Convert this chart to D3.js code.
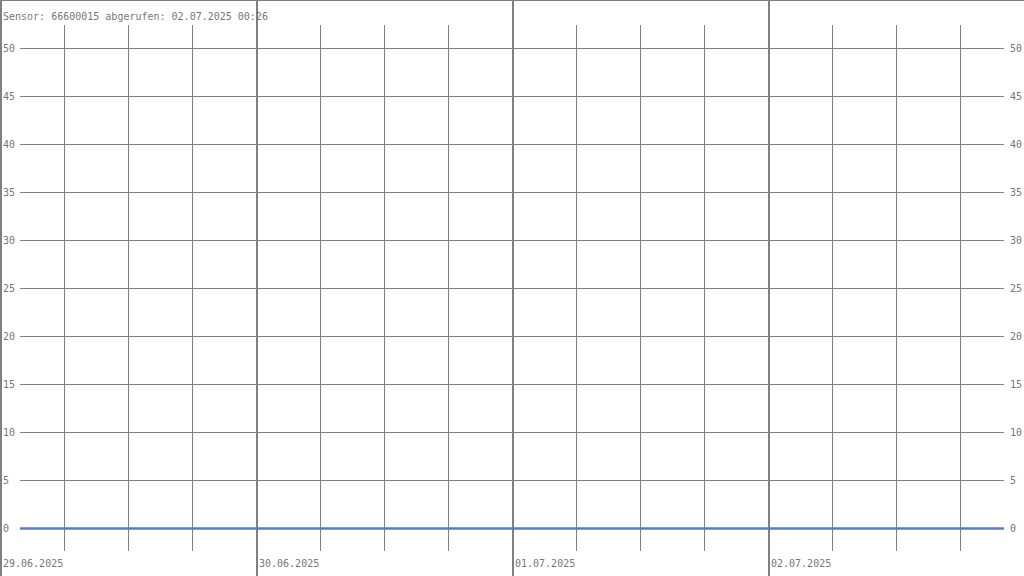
<!DOCTYPE html>
<html>
<head>
<meta charset="utf-8">
<script src="https://cdn.jsdelivr.net/npm/d3@7"></script>
<style>
  body { margin: 0; background: #fff; }
  svg { display: block; }
  text { font-family: "DejaVu Sans Mono", monospace; font-size: 10px; fill: #777; }
</style>
</head>
<body>
<div id="chart"></div>
<script>
// sensor info
var sensorId = "66600015";
var fetchedAt = "02.07.2025 00:26";

// day labels (start of each day)
var days = ["2025-06-29", "2025-06-30", "2025-07-01", "2025-07-02"];

// y ticks
var yTicks = [0, 5, 10, 15, 20, 25, 30, 35, 40, 45, 50];

// readings (all zero)
var readTimes = ["2025-06-29T01:53", "2025-06-29T12:00", "2025-06-30T00:00", "2025-06-30T12:00",
                 "2025-07-01T00:00", "2025-07-01T12:00", "2025-07-02T00:00", "2025-07-02T12:00",
                 "2025-07-02T22:07"];
var readValues = [0, 0, 0, 0, 0, 0, 0, 0, 0];

var width = 1024, height = 576;
var parseDay = d3.timeParse("%Y-%m-%d");
var parseTime = d3.timeParse("%Y-%m-%dT%H:%M");
var fmtDay = d3.timeFormat("%d.%m.%Y");

var data = readTimes.map(function (t, i) { return { date: parseTime(t), value: readValues[i] }; });
var dayDates = days.map(parseDay);

// set the ranges
var x = d3.scaleTime()
    .domain([dayDates[0], d3.timeDay.offset(dayDates[3], 1)])
    .range([0, width]);
var y = d3.scaleLinear().domain([0, 50]).range([528.5, 48.5]);

var gridLeft = 20, gridRight = 1004;

var svg = d3.select("#chart").append("svg")
    .attr("width", width)
    .attr("height", height);

// top border
svg.append("line")
    .attr("x1", 0).attr("x2", width).attr("y1", 0.5).attr("y2", 0.5)
    .attr("stroke", "#808080").attr("stroke-width", 1);

// horizontal grid + labels on both sides
var yg = svg.append("g");
yg.selectAll("line").data(yTicks).enter().append("line")
    .attr("x1", gridLeft).attr("x2", gridRight)
    .attr("y1", function (d) { return y(d); })
    .attr("y2", function (d) { return y(d); })
    .attr("stroke", "#808080").attr("stroke-width", 1);
yg.selectAll("text.l").data(yTicks).enter().append("text")
    .attr("class", "l")
    .attr("x", 3)
    .attr("y", function (d) { return y(d) + 3.5; })
    .text(function (d) { return d; });
yg.selectAll("text.r").data(yTicks).enter().append("text")
    .attr("class", "r")
    .attr("x", 1010)
    .attr("y", function (d) { return y(d) + 3.5; })
    .text(function (d) { return d; });

// 6-hour lines
var hours = d3.timeHour.every(6).range(dayDates[0], d3.timeDay.offset(dayDates[3], 1))
    .filter(function (d) { return d.getHours() !== 0; });
svg.append("g").selectAll("line").data(hours).enter().append("line")
    .attr("x1", function (d) { return Math.round(x(d)) + 0.5; })
    .attr("x2", function (d) { return Math.round(x(d)) + 0.5; })
    .attr("y1", 25).attr("y2", 551)
    .attr("stroke", "#808080").attr("stroke-width", 1);

// day separators
svg.append("g").selectAll("line").data(dayDates).enter().append("line")
    .attr("x1", function (d) { return x(d) + 1; })
    .attr("x2", function (d) { return x(d) + 1; })
    .attr("y1", 0).attr("y2", height)
    .attr("stroke", "#808080").attr("stroke-width", 2);

// day labels
svg.append("g").selectAll("text").data(dayDates).enter().append("text")
    .attr("x", function (d) { return x(d) + 3; })
    .attr("y", 567)
    .text(function (d) { return fmtDay(d); });

// value line
var valueline = d3.line()
    .x(function (d) { return x(d.date); })
    .y(function (d) { return y(d.value); });
svg.append("path")
    .datum(data)
    .attr("d", valueline)
    .attr("fill", "none")
    .attr("stroke", "#5a7ec2")
    .attr("stroke-width", 2.5);

// title
svg.append("text")
    .attr("x", 3)
    .attr("y", 20)
    .text("Sensor: " + sensorId + " abgerufen: " + fetchedAt);
</script>
</body>
</html>
